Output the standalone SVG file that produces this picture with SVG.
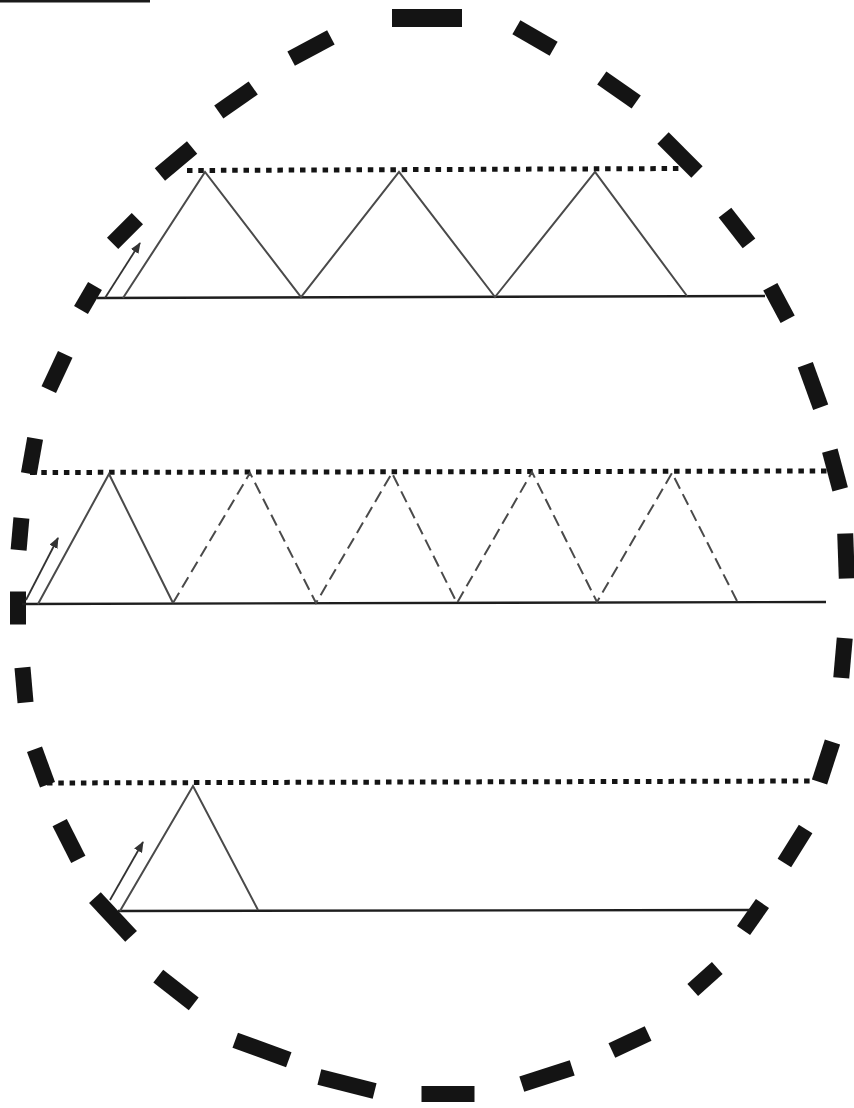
<svg xmlns="http://www.w3.org/2000/svg" width="854" height="1108" viewBox="0 0 854 1108">
<style>
.d{fill:#141414}
.base{stroke:#1e1e1e;stroke-width:2.4;fill:none}
.zig{stroke:#4a4a4a;stroke-width:2;fill:none;stroke-linejoin:miter}
.zigd{stroke:#4a4a4a;stroke-width:2;fill:none;stroke-dasharray:12 6}
.dot{stroke:#141414;stroke-width:5;stroke-dasharray:5.5 5.8;fill:none}
.arr{stroke:#333;stroke-width:1.8;fill:none;marker-end:url(#ah)}
</style>
<defs>
<marker id="ah" markerUnits="userSpaceOnUse" markerWidth="12" markerHeight="10" refX="10" refY="4.5" orient="auto">
<path d="M0,0 L11,4.5 L0,9 z" fill="#333"/>
</marker>
</defs>
<rect x="0" y="0" width="150" height="2.5" fill="#1a1a1a"/>
<g id="frame">
<rect class="d" x="-35" y="-9" width="70" height="18" transform="translate(427,18) rotate(0)"/>
<rect class="d" x="-21.5" y="-8" width="43" height="16" transform="translate(535,38) rotate(30)"/>
<rect class="d" x="-21" y="-8" width="42" height="16" transform="translate(619,90) rotate(35)"/>
<rect class="d" x="-24" y="-8" width="48" height="16" transform="translate(680,155) rotate(45)"/>
<rect class="d" x="-19.5" y="-8" width="39" height="16" transform="translate(737,228) rotate(52)"/>
<rect class="d" x="-18.5" y="-8" width="37" height="16" transform="translate(779,303) rotate(62)"/>
<rect class="d" x="-22.5" y="-8" width="45" height="16" transform="translate(813,386) rotate(70)"/>
<rect class="d" x="-20" y="-8" width="40" height="16" transform="translate(835,470) rotate(75)"/>
<rect class="d" x="-22.5" y="-8" width="45" height="16" transform="translate(846,556) rotate(88)"/>
<rect class="d" x="-20" y="-8" width="40" height="16" transform="translate(843,658) rotate(95)"/>
<rect class="d" x="-21" y="-8" width="42" height="16" transform="translate(826,762) rotate(108)"/>
<rect class="d" x="-20" y="-8" width="40" height="16" transform="translate(795,846) rotate(122)"/>
<rect class="d" x="-16.5" y="-8" width="33" height="16" transform="translate(753,917) rotate(125)"/>
<rect class="d" x="-16.5" y="-8" width="33" height="16" transform="translate(705,979) rotate(138)"/>
<rect class="d" x="-20" y="-8" width="40" height="16" transform="translate(630,1042) rotate(155)"/>
<rect class="d" x="-26.5" y="-8" width="53" height="16" transform="translate(547,1076) rotate(162)"/>
<rect class="d" x="-26.5" y="-8" width="53" height="16" transform="translate(448,1094) rotate(180)"/>
<rect class="d" x="-28.5" y="-8" width="57" height="16" transform="translate(347,1084) rotate(14)"/>
<rect class="d" x="-28.5" y="-8" width="57" height="16" transform="translate(262,1050) rotate(20)"/>
<rect class="d" x="-22.5" y="-8" width="45" height="16" transform="translate(176,990) rotate(38)"/>
<rect class="d" x="-26.5" y="-8" width="53" height="16" transform="translate(113,917) rotate(47)"/>
<rect class="d" x="-20.5" y="-8" width="41" height="16" transform="translate(69,841) rotate(63)"/>
<rect class="d" x="-19" y="-8" width="38" height="16" transform="translate(41,767) rotate(70)"/>
<rect class="d" x="-17.5" y="-8" width="35" height="16" transform="translate(24,685) rotate(85)"/>
<rect class="d" x="-16.5" y="-8" width="33" height="16" transform="translate(18,608) rotate(90)"/>
<rect class="d" x="-16" y="-8" width="32" height="16" transform="translate(20,534) rotate(95)"/>
<rect class="d" x="-18" y="-8" width="36" height="16" transform="translate(32,456) rotate(100)"/>
<rect class="d" x="-19.5" y="-8" width="39" height="16" transform="translate(57,372) rotate(115)"/>
<rect class="d" x="-14" y="-8" width="28" height="16" transform="translate(88,298) rotate(120)"/>
<rect class="d" x="-17.5" y="-8" width="35" height="16" transform="translate(125,231) rotate(135)"/>
<rect class="d" x="-21" y="-8" width="42" height="16" transform="translate(176,161) rotate(140)"/>
<rect class="d" x="-21" y="-8" width="42" height="16" transform="translate(236,100) rotate(145)"/>
<rect class="d" x="-22.5" y="-8" width="45" height="16" transform="translate(311,48) rotate(152)"/>
</g>
<g id="row1">
<line class="dot" x1="187" y1="170.5" x2="682" y2="168.5"/>
<line class="base" x1="97" y1="298" x2="765" y2="296"/>
<polyline class="zig" points="123,298 205,172 301,297 399,172 495,297 595,172 687,296"/>
<line class="arr" x1="105" y1="298" x2="140" y2="243"/>
</g>
<g id="row2">
<line class="dot" x1="30" y1="472.5" x2="827" y2="471"/>
<line class="base" x1="22" y1="604" x2="826" y2="602"/>
<polyline class="zig" points="38,604 109,474 173,603"/>
<polyline class="zigd" points="173,603 250,473 316,603 392,473 457,603 532,472 597,602 672,473 737,601"/>
<line class="arr" x1="26" y1="600" x2="58" y2="538"/>
</g>
<g id="row3">
<line class="dot" x1="47" y1="783" x2="812" y2="781"/>
<line class="base" x1="118" y1="911" x2="750" y2="910"/>
<polyline class="zig" points="120,911 193,786 258,910"/>
<line class="arr" x1="110" y1="900" x2="143" y2="842"/>
</g>
</svg>
